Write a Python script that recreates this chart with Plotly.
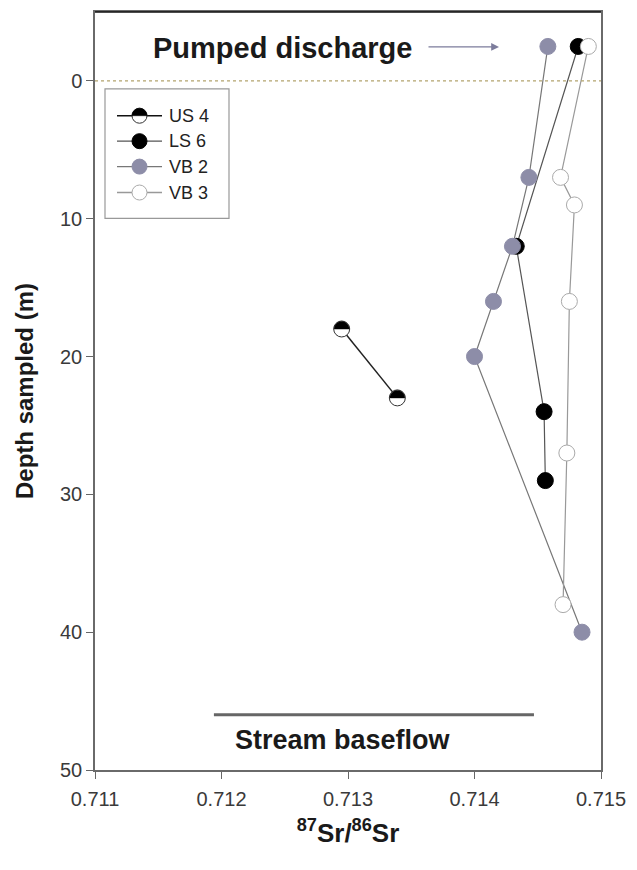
import plotly.graph_objects as go

# ---- data ----
us4_x = [0.71295, 0.71339]
us4_y = [18, 23]
ls6_x = [0.71482, 0.71433, 0.71455, 0.71456]
ls6_y = [-2.5, 12, 24, 29]
vb2_x = [0.71458, 0.71443, 0.71430, 0.71415, 0.71400, 0.71485]
vb2_y = [-2.5, 7, 12, 16, 20, 40]
vb3_x = [0.71490, 0.71468, 0.71479, 0.71475, 0.71473, 0.71470]
vb3_y = [-2.5, 7, 9, 16, 27, 38]
x_ticks = [0.711, 0.712, 0.713, 0.714, 0.715]
y_ticks = [0, 10, 20, 30, 40, 50]
series_names = ["US 4", "LS 6", "VB 2", "VB 3"]
baseflow_x = [0.71194, 0.71447]
baseflow_depth = 46

FONT = "Liberation Sans, Arial, sans-serif"
NARROW = "Liberation Sans Narrow, Arial Narrow, Liberation Sans, sans-serif"
MS = 16
C_VB2 = "#8d8da8"

fig = go.Figure()

fig.add_trace(go.Scatter(x=ls6_x, y=ls6_y, mode="lines+markers",
                         line=dict(color="#555555", width=1.2),
                         marker=dict(size=MS, color="black", line=dict(color="black", width=1)),
                         showlegend=False))
fig.add_trace(go.Scatter(x=vb2_x, y=vb2_y, mode="lines+markers",
                         line=dict(color="#777777", width=1.2),
                         marker=dict(size=MS, color=C_VB2, line=dict(color=C_VB2, width=1)),
                         showlegend=False))
fig.add_trace(go.Scatter(x=vb3_x, y=vb3_y, mode="lines+markers",
                         line=dict(color="#999999", width=1.2),
                         marker=dict(size=MS, color="white", line=dict(color="#aaaaaa", width=1)),
                         showlegend=False))
fig.add_trace(go.Scatter(x=us4_x, y=us4_y, mode="lines+markers",
                         line=dict(color="#222222", width=1.5),
                         marker=dict(size=MS, color="white", line=dict(color="#333333", width=1)),
                         showlegend=False))

r = MS / 2 - 0.5
k = 0.5523 * r
half_path = (f"M {-r},0 C {-r},{k} {-k},{r} 0,{r} C {k},{r} {r},{k} {r},0 Z")

shapes = []
for xv, yv in zip(us4_x, us4_y):
    shapes.append(dict(type="path", xref="x", yref="y", xsizemode="pixel", ysizemode="pixel",
                       xanchor=xv, yanchor=yv, path=half_path,
                       fillcolor="black", line=dict(color="black", width=0.5)))

# depth 0 dotted line
shapes.append(dict(type="line", xref="paper", yref="y", x0=0, x1=1, y0=0, y1=0,
                   line=dict(color="#b3a46e", width=1.2, dash="dot")))
# stream baseflow bar
shapes.append(dict(type="line", xref="x", yref="y", x0=baseflow_x[0], x1=baseflow_x[1],
                   y0=baseflow_depth, y1=baseflow_depth,
                   line=dict(color="#666666", width=3)))
# top frame line
shapes.append(dict(type="line", xref="paper", yref="paper", x0=0, x1=1, y0=1, y1=1,
                   line=dict(color="#111111", width=1.5)))

# ---- manual legend ----
W, H = 506, 760
def px(xp): return (xp - 95) / W
def py(yp): return (770 - yp) / H

shapes.append(dict(type="rect", xref="paper", yref="paper", x0=px(105), x1=px(229),
                   y0=py(217), y1=py(87), line=dict(color="#999999", width=1.2),
                   fillcolor="white"))
leg_y = [114, 139.5, 165, 191]
leg_line = ["#111111", "#555555", "#777777", "#999999"]
leg_fill = [None, "black", C_VB2, "white"]
leg_edge = ["#333333", "black", C_VB2, "#aaaaaa"]
annotations = []
lr = 7.5
for i, name in enumerate(series_names):
    yp = py(leg_y[i])
    shapes.append(dict(type="line", xref="paper", yref="paper", x0=px(117), x1=px(162),
                       y0=yp, y1=yp, line=dict(color=leg_line[i], width=1.3)))
    shapes.append(dict(type="circle", xref="paper", yref="paper", xsizemode="pixel",
                       ysizemode="pixel", xanchor=px(139.5), yanchor=yp,
                       x0=-lr, x1=lr, y0=-lr, y1=lr,
                       fillcolor=leg_fill[i] or "white", line=dict(color=leg_edge[i], width=1)))
    if i == 0:
        kk = 0.5523 * lr
        shapes.append(dict(type="path", xref="paper", yref="paper", xsizemode="pixel",
                           ysizemode="pixel", xanchor=px(139.5), yanchor=yp,
                           path=f"M {-lr},0 C {-lr},{kk} {-kk},{lr} 0,{lr} C {kk},{lr} {lr},{kk} {lr},0 Z",
                           fillcolor="black", line=dict(color="black", width=0.5)))
    annotations.append(dict(xref="paper", yref="paper", x=px(167), y=yp, text=name,
                            showarrow=False, xanchor="left", yanchor="middle",
                            font=dict(family=FONT, size=18, color="#222222")))

# Pumped discharge
annotations.append(dict(xref="paper", yref="paper", x=px(282), y=py(46), text="<b>Pumped discharge</b>",
                        showarrow=False, xanchor="center", yanchor="middle",
                        font=dict(family=FONT, size=29, color="#1a1a1a")))
annotations.append(dict(xref="paper", yref="paper", x=px(499), y=py(45), text="",
                        showarrow=True, ax=-72, ay=0, arrowhead=2, arrowsize=1.2,
                        arrowwidth=1.3, arrowcolor="#7c7c9c"))
# Stream baseflow
annotations.append(dict(xref="paper", yref="paper", x=px(343), y=py(740), text="<b>Stream baseflow</b>",
                        showarrow=False, xanchor="center", yanchor="middle",
                        font=dict(family=FONT, size=27, color="#1a1a1a")))

fig.update_layout(
    width=637, height=870,
    margin=dict(l=95, r=36, t=10, b=100),
    paper_bgcolor="white", plot_bgcolor="white",
    shapes=shapes, annotations=annotations,
    font=dict(family=FONT),
    xaxis=dict(range=[0.711, 0.715], tickvals=x_ticks, ticktext=[f"{v:.3f}" for v in x_ticks],
               showgrid=False, zeroline=False, showline=True, linecolor="#6a6a6a", linewidth=1.5,
               mirror=True, ticks="outside", ticklen=7, tickcolor="#666666",
               ticklabelstandoff=3,
               tickfont=dict(family=FONT, size=20, color="#3a3a3a"),
               title=dict(text="<b><sup>87</sup>Sr/<sup>86</sup>Sr</b>", standoff=15,
                          font=dict(family=FONT, size=26, color="#1a1a1a"))),
    yaxis=dict(range=[50, -5], tickvals=y_ticks, showgrid=False, zeroline=False,
               showline=True, linecolor="#6a6a6a", linewidth=1.5, mirror=True,
               ticks="outside", ticklen=7, tickcolor="#666666",
               tickfont=dict(family=FONT, size=20, color="#3a3a3a"),
               title=dict(text="<b>Depth sampled (m)</b>", standoff=20,
                          font=dict(family=NARROW, size=24, color="#1a1a1a"))),
)

fig.write_html("out.html")
